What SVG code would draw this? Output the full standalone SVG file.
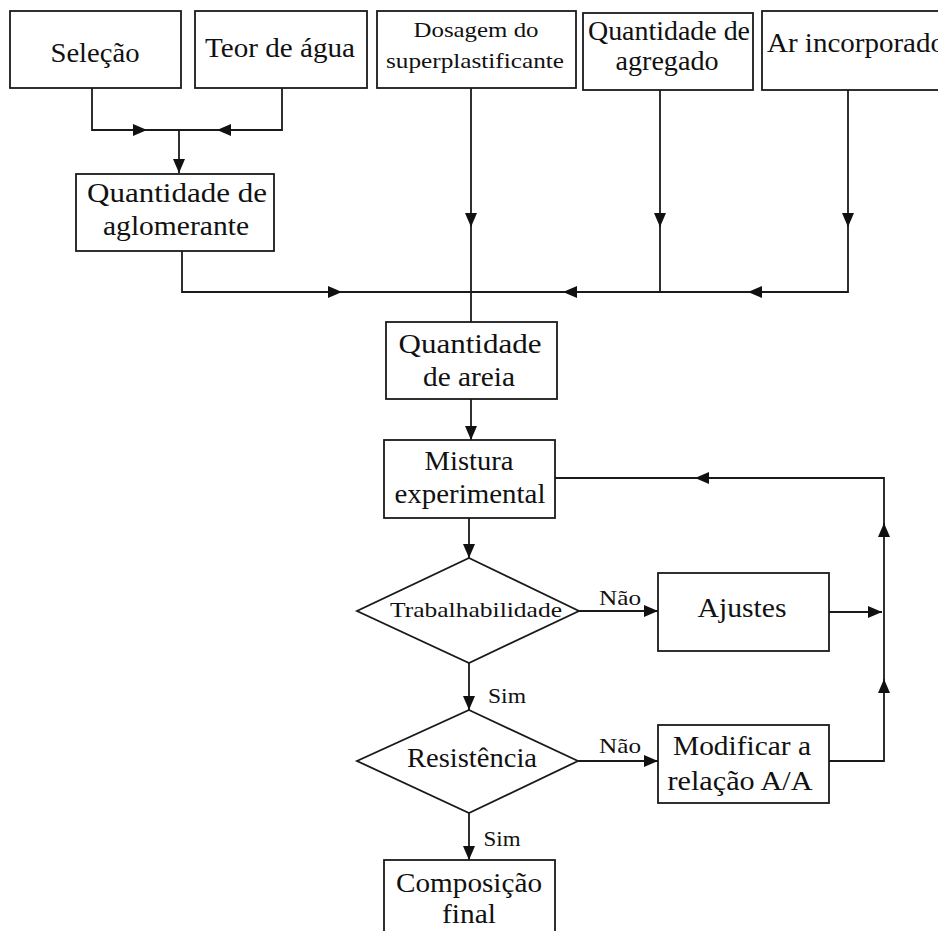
<svg xmlns="http://www.w3.org/2000/svg" width="938" height="931" viewBox="0 0 938 931">
<style>
.box{fill:#fff;stroke:#1a1a1a;stroke-width:1.8}
.t{font-family:"Liberation Serif","Times New Roman",serif;fill:#111;text-anchor:middle}
.c{fill:none;stroke:#1a1a1a;stroke-width:1.8}
.a{marker-end:url(#arr)}
</style>
<defs>
<marker id="arr" markerUnits="userSpaceOnUse" markerWidth="14" markerHeight="12" refX="14" refY="6" orient="auto">
<path d="M0,0 L14,6 L0,12 z" fill="#111"/>
</marker>
</defs>
<rect width="938" height="931" fill="#fff"/>
<g id="connectors">
<path class="c a" d="M92,88 V130 H147"/>
<path class="c a" d="M282,88 V130 H217"/>
<path class="c" d="M145,130 H219"/>
<path class="c a" d="M179,130 V173"/>
<path class="c a" d="M182,251 V292 H342"/>
<path class="c" d="M340,292 H471"/>
<path class="c a" d="M471,88 V227"/>
<path class="c" d="M471,225 V333"/>
<path class="c a" d="M660,90 V227"/>
<path class="c" d="M660,225 V292"/>
<path class="c a" d="M848,90 V227"/>
<path class="c a" d="M848,225 V292 H748"/>
<path class="c a" d="M750,292 H563"/>
<path class="c" d="M565,292 H471"/>
<path class="c a" d="M471,399 V440"/>
<path class="c a" d="M469,518 V558"/>
<path class="c a" d="M579,611 H658"/>
<path class="c a" d="M469,663 V710"/>
<path class="c a" d="M578,761 H658"/>
<path class="c a" d="M469,813 V860"/>
<path class="c a" d="M829,612 H882"/>
<path class="c a" d="M829,761 H884 V679"/>
<path class="c a" d="M884,681 V523"/>
<path class="c a" d="M884,525 V478 H695"/>
<path class="c" d="M697,478 H555"/>
<text class="t" x="620" y="605" font-size="22" textLength="42" lengthAdjust="spacingAndGlyphs">Não</text>
<text class="t" x="507" y="703" font-size="22" textLength="38" lengthAdjust="spacingAndGlyphs">Sim</text>
<text class="t" x="620" y="753" font-size="22" textLength="42" lengthAdjust="spacingAndGlyphs">Não</text>
<text class="t" x="502" y="846" font-size="22" textLength="37" lengthAdjust="spacingAndGlyphs">Sim</text>
</g>
<g id="selecao">
<rect class="box" x="10" y="11" width="171" height="77"/>
<text class="t" x="95" y="62" font-size="28" textLength="89" lengthAdjust="spacingAndGlyphs">Seleção</text>
</g>
<g id="teor-agua">
<rect class="box" x="195" y="11" width="172" height="77"/>
<text class="t" x="280" y="57" font-size="28" textLength="150" lengthAdjust="spacingAndGlyphs">Teor de água</text>
</g>
<g id="dosagem">
<rect class="box" x="377" y="11" width="199" height="77"/>
<text class="t" x="476" y="37" font-size="22" textLength="125" lengthAdjust="spacingAndGlyphs">Dosagem do</text>
<text class="t" x="475" y="68" font-size="22" textLength="178" lengthAdjust="spacingAndGlyphs">superplastificante</text>
</g>
<g id="agregado">
<rect class="box" x="583" y="13" width="170" height="77"/>
<text class="t" x="669" y="40" font-size="27" textLength="162" lengthAdjust="spacingAndGlyphs">Quantidade de</text>
<text class="t" x="667" y="70" font-size="27" textLength="103" lengthAdjust="spacingAndGlyphs">agregado</text>
</g>
<g id="ar">
<rect class="box" x="762" y="11" width="190" height="79"/>
<text class="t" x="767" y="52" font-size="28" textLength="178" lengthAdjust="spacingAndGlyphs" style="text-anchor:start">Ar incorporado</text>
</g>
<g id="aglomerante">
<rect class="box" x="76" y="174" width="198" height="77"/>
<text class="t" x="177" y="202" font-size="28" textLength="180" lengthAdjust="spacingAndGlyphs">Quantidade de</text>
<text class="t" x="176" y="235" font-size="28" textLength="146" lengthAdjust="spacingAndGlyphs">aglomerante</text>
</g>
<g id="areia">
<rect class="box" x="386" y="322" width="171" height="77"/>
<text class="t" x="470" y="353" font-size="28" textLength="143" lengthAdjust="spacingAndGlyphs">Quantidade</text>
<text class="t" x="469" y="386" font-size="28" textLength="92" lengthAdjust="spacingAndGlyphs">de areia</text>
</g>
<g id="mistura">
<rect class="box" x="384" y="440" width="171" height="78"/>
<text class="t" x="469" y="470" font-size="28" textLength="89" lengthAdjust="spacingAndGlyphs">Mistura</text>
<text class="t" x="470" y="503" font-size="28" textLength="151" lengthAdjust="spacingAndGlyphs">experimental</text>
</g>
<g id="trabalhabilidade">
<polygon class="box" points="469,558 579,611 469,663 357,611"/>
<text class="t" x="476" y="617" font-size="22" textLength="172" lengthAdjust="spacingAndGlyphs">Trabalhabilidade</text>
</g>
<g id="ajustes">
<rect class="box" x="658" y="573" width="171" height="78"/>
<text class="t" x="742" y="617" font-size="28" textLength="89" lengthAdjust="spacingAndGlyphs">Ajustes</text>
</g>
<g id="resistencia">
<polygon class="box" points="469,710 578,761 469,813 357,761"/>
<text class="t" x="472" y="767" font-size="27" textLength="130" lengthAdjust="spacingAndGlyphs">Resistência</text>
</g>
<g id="modificar">
<rect class="box" x="658" y="725" width="171" height="78"/>
<text class="t" x="742" y="755" font-size="28" textLength="138" lengthAdjust="spacingAndGlyphs">Modificar a</text>
<text class="t" x="740" y="790" font-size="28" textLength="145" lengthAdjust="spacingAndGlyphs">relação A/A</text>
</g>
<g id="composicao">
<rect class="box" x="384" y="860" width="171" height="90"/>
<text class="t" x="469" y="892" font-size="28" textLength="146" lengthAdjust="spacingAndGlyphs">Composição</text>
<text class="t" x="469" y="923" font-size="28" textLength="54" lengthAdjust="spacingAndGlyphs">final</text>
</g>
</svg>
